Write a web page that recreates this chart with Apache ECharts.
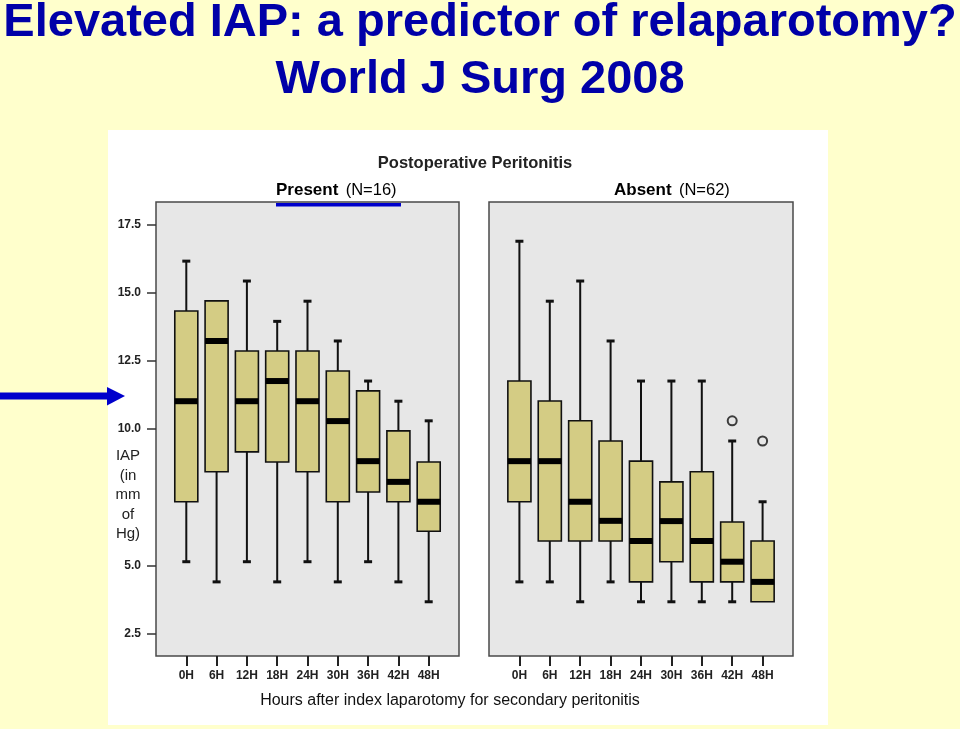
<!DOCTYPE html>
<html>
<head>
<meta charset="utf-8">
<script src="https://cdn.jsdelivr.net/npm/echarts@6/dist/echarts.min.js"></script>
<style>
html,body{margin:0;padding:0;background:#ffffcc;}
#c{width:960px;height:729px;}
</style>
</head>
<body>
<div id="c"></div>
<script>
// ---- data ----
const hours = ['0H','6H','12H','18H','24H','30H','36H','42H','48H'];
const yTickValues = [2.5, 5.0, 10.0, 12.5, 15.0, 17.5];
// [low whisker, Q1, median, Q3, high whisker]
const presentBoxes = [
  [5.13, 7.33, 11.02, 14.33, 16.16],
  [4.39, 8.43, 13.23, 14.70, 14.70],
  [5.13, 9.16, 11.02, 12.86, 15.43],
  [4.39, 8.79, 11.76, 12.86, 13.95],
  [5.13, 8.43, 11.02, 12.86, 14.69],
  [4.39, 7.33, 10.29, 12.13, 13.23],
  [5.13, 7.69, 8.82, 11.40, 11.76],
  [4.39, 7.33, 8.06, 9.93, 11.02],
  [3.66, 6.25, 7.33, 8.79, 10.30]
];
const absentBoxes = [
  [4.39, 7.33, 8.82, 11.76, 16.89],
  [4.39, 5.89, 8.82, 11.03, 14.69],
  [3.66, 5.89, 7.33, 10.30, 15.43],
  [4.39, 5.89, 6.63, 9.56, 13.23],
  [3.66, 4.39, 5.89, 8.82, 11.76],
  [3.66, 5.13, 6.62, 8.06, 11.76],
  [3.66, 4.39, 5.89, 8.43, 11.76],
  [3.66, 4.39, 5.13, 6.59, 9.56],
  [3.66, 3.66, 4.39, 5.89, 7.33]
];
// [category index, value]
const absentOutliers = [[7, 10.30], [8, 9.56]];

const FONT = 'Liberation Sans, Arial, sans-serif';
const hourIdx = hours.map((h, i) => i);

function renderBox(params, api) {
  const x = api.value(0);
  const low = api.value(1), q1 = api.value(2), med = api.value(3), q3 = api.value(4), high = api.value(5);
  const pLow = api.coord([x, low]);
  const pQ1 = api.coord([x, q1]);
  const pMed = api.coord([x, med]);
  const pQ3 = api.coord([x, q3]);
  const pHigh = api.coord([x, high]);
  const bw = api.size([1, 0])[0] * 0.76;
  const cx = pLow[0];
  const capW = 8, capH = 3;
  const children = [];
  children.push({type: 'line', shape: {x1: cx, y1: pHigh[1], x2: cx, y2: pLow[1]}, style: {stroke: '#111', lineWidth: 2}});
  if (high > q3) children.push({type: 'rect', shape: {x: cx - capW / 2, y: pHigh[1] - capH / 2, width: capW, height: capH}, style: {fill: '#111'}});
  if (low < q1) children.push({type: 'rect', shape: {x: cx - capW / 2, y: pLow[1] - capH / 2, width: capW, height: capH}, style: {fill: '#111'}});
  children.push({type: 'rect', shape: {x: cx - bw / 2, y: pQ3[1], width: bw, height: pQ1[1] - pQ3[1]}, style: {fill: '#d4cc84', stroke: '#111', lineWidth: 1.6}});
  children.push({type: 'rect', shape: {x: cx - bw / 2, y: pMed[1] - 3, width: bw, height: 6}, style: {fill: '#000'}});
  return {type: 'group', children};
}

function xAxisCfg(gi) {
  return {
    type: 'value', gridIndex: gi, min: -1, max: 9,
    axisLine: {show: false, onZero: false},
    splitLine: {show: false},
    axisTick: {show: true, customValues: hourIdx, length: 10, lineStyle: {color: '#222', width: 2}},
    axisLabel: {show: true, customValues: hourIdx, formatter: v => hours[v], margin: 14,
      fontFamily: FONT, fontSize: 12, fontWeight: 'bold', color: '#222'}
  };
}
function yAxisCfg(gi, labels) {
  return {
    type: 'value', gridIndex: gi, min: 1.67, max: 18.33, position: 'left',
    axisLine: {show: false, onZero: false},
    splitLine: {show: false},
    axisTick: {show: labels, customValues: yTickValues, length: 9, lineStyle: {color: '#333', width: 1.5}},
    axisLabel: {show: labels, customValues: yTickValues, formatter: v => v.toFixed(1), margin: 15,
      fontFamily: FONT, fontSize: 12, fontWeight: 'bold', color: '#222'}
  };
}

const richTitle = {
  b: {fontFamily: FONT, fontSize: 17, fontWeight: 'bold', color: '#222'},
  n: {fontFamily: FONT, fontSize: 16.5, color: '#555', padding: [0, 0, 0, 4]}
};

const chart = echarts.init(document.getElementById('c'), null, {renderer: 'canvas'});
chart.setOption({
  animation: false,
  backgroundColor: 'transparent',
  graphic: [
    {type: 'rect', z: -100, shape: {x: 108, y: 130, width: 720, height: 595}, style: {fill: '#ffffff'}},
    {type: 'text', style: {text: 'Elevated IAP: a predictor of relaparotomy?', x: 480, y: 23, textAlign: 'center', textVerticalAlign: 'middle', verticalAlign: 'middle', font: 'bold 47px ' + FONT, fill: '#0000a8'}},
    {type: 'text', style: {text: 'World J Surg 2008', x: 480, y: 80, textAlign: 'center', textVerticalAlign: 'middle', verticalAlign: 'middle', font: 'bold 47px ' + FONT, fill: '#0000a8'}},
    {type: 'text', style: {text: 'Postoperative Peritonitis', x: 475, y: 163, textAlign: 'center', textVerticalAlign: 'middle', verticalAlign: 'middle', font: 'bold 16.5px ' + FONT, fill: '#222'}},
    {type: 'text', style: {text: '{b|Present} {n|(N=16)}', x: 276, y: 190, textAlign: 'left', textVerticalAlign: 'middle', verticalAlign: 'middle', rich: richTitle}},
    {type: 'text', style: {text: '{b|Absent} {n|(N=62)}', x: 614, y: 190, textAlign: 'left', textVerticalAlign: 'middle', verticalAlign: 'middle', rich: richTitle}},
    {type: 'text', style: {text: 'IAP\n(in\nmm\nof\nHg)', x: 128, y: 495, textAlign: 'center', textVerticalAlign: 'middle', verticalAlign: 'middle', font: '15px ' + FONT, lineHeight: 19.5, fill: '#222'}},
    {type: 'text', style: {text: 'Hours after index laparotomy for secondary peritonitis', x: 450, y: 701, textAlign: 'center', textVerticalAlign: 'middle', verticalAlign: 'middle', font: '16px ' + FONT, fill: '#111'}},
    {type: 'rect', z: 100, shape: {x: 276, y: 203, width: 125, height: 3.5}, style: {fill: '#0000cc'}},
    {type: 'rect', z: 100, shape: {x: 0, y: 392.5, width: 109, height: 7}, style: {fill: '#0000cc'}},
    {type: 'polygon', z: 100, shape: {points: [[107, 387], [125, 396], [107, 405.5]]}, style: {fill: '#0000cc'}}
  ],
  grid: [
    {left: 156, top: 202, width: 303, height: 454, show: true, backgroundColor: '#e7e7e7', borderColor: '#4a4a4a', borderWidth: 1.5},
    {left: 489, top: 202, width: 304, height: 454, show: true, backgroundColor: '#e7e7e7', borderColor: '#4a4a4a', borderWidth: 1.5}
  ],
  xAxis: [xAxisCfg(0), xAxisCfg(1)],
  yAxis: [yAxisCfg(0, true), yAxisCfg(1, false)],
  series: [
    {type: 'custom', xAxisIndex: 0, yAxisIndex: 0, renderItem: renderBox,
      encode: {x: 0, y: [1, 2, 3, 4, 5]}, data: presentBoxes.map((b, i) => [i].concat(b))},
    {type: 'custom', xAxisIndex: 1, yAxisIndex: 1, renderItem: renderBox,
      encode: {x: 0, y: [1, 2, 3, 4, 5]}, data: absentBoxes.map((b, i) => [i].concat(b))},
    {type: 'scatter', xAxisIndex: 1, yAxisIndex: 1, symbol: 'circle', symbolSize: 9,
      itemStyle: {color: '#e7e7e7', borderColor: '#111', borderWidth: 2}, data: absentOutliers}
  ]
});
</script>
</body>
</html>
